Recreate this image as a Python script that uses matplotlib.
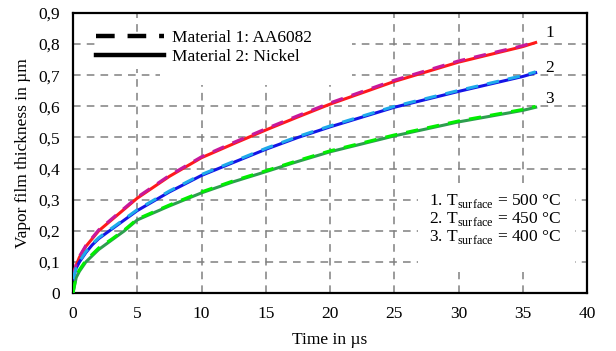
import numpy as np
import matplotlib
matplotlib.use('Agg')
import matplotlib.pyplot as plt
from matplotlib.lines import Line2D
from matplotlib.patches import Rectangle

plt.rcParams['font.family'] = ['Liberation Serif', 'DejaVu Serif']
plt.rcParams['mathtext.fontset'] = 'custom'
plt.rcParams['mathtext.rm'] = 'Liberation Serif'
plt.rcParams['font.size'] = 12.5

# time in microseconds
t = [0, 0.25, 0.5, 1, 1.5, 2, 3, 4, 5, 7.5, 10, 12.5, 15, 17.5, 20, 25, 30, 35, 36]

# Material 2 (Nickel), solid
ni_500 = [0.055, 0.09, 0.115, 0.15, 0.175, 0.20, 0.235, 0.27, 0.305, 0.375, 0.435,
          0.48, 0.524, 0.566, 0.607, 0.68, 0.742, 0.792, 0.805]
ni_450 = [0.045, 0.08, 0.10, 0.13, 0.155, 0.175, 0.205, 0.235, 0.265, 0.325, 0.378,
          0.42, 0.462, 0.50, 0.534, 0.597, 0.648, 0.696, 0.708]
ni_400 = [0.0, 0.05, 0.07, 0.10, 0.12, 0.14, 0.17, 0.20, 0.235, 0.28, 0.322,
          0.358, 0.39, 0.423, 0.454, 0.505, 0.55, 0.587, 0.597]

# Material 1 (AA6082), dashed
al_500 = [0.055, 0.092, 0.118, 0.153, 0.178, 0.203, 0.238, 0.273, 0.308, 0.378, 0.438,
          0.484, 0.528, 0.570, 0.611, 0.684, 0.746, 0.795, 0.808]
al_450 = [0.045, 0.082, 0.102, 0.133, 0.158, 0.178, 0.208, 0.238, 0.268, 0.328, 0.381,
          0.423, 0.465, 0.503, 0.537, 0.600, 0.651, 0.699, 0.711]
al_400 = [0.0, 0.055, 0.075, 0.105, 0.125, 0.145, 0.173, 0.203, 0.238, 0.283, 0.325,
          0.361, 0.393, 0.426, 0.457, 0.508, 0.553, 0.590, 0.600]

curve_labels = ['1', '2', '3']
temps = [500, 450, 400]

fig = plt.figure(figsize=(6.16, 3.51), dpi=100)
ax = fig.add_axes([0.1185, 0.165, 0.8345, 0.798])

ax.set_axisbelow(True)
ax.grid(True, color='#808080', linestyle=(0, (5, 4)), linewidth=1.1)

# white patches where the grid is hidden (legend + note box)
for (x0, y0, w, h) in [(1.7, 0.72, 5.1, 0.12), (6.8, 0.67, 14.9, 0.23), (26.85, 0.067, 12.2, 0.266)]:
    ax.add_patch(Rectangle((x0, y0), w, h, facecolor='white', edgecolor='none', zorder=1))

solid_cols = ['#ff1a1a', '#1414e6', '#2e9e4f']
dash_cols = ['#c8189b', '#1eaaea', '#00ee00']
solid = [ni_500, ni_450, ni_400]
dashed = [al_500, al_450, al_400]

for i in range(3):
    ax.plot(t, solid[i], color=solid_cols[i], lw=2.2, zorder=3)
for i in range(3):
    ax.plot(t, dashed[i], color=dash_cols[i], lw=2.2, dashes=(4, 3), zorder=4)

for i, lab in enumerate(curve_labels):
    ax.text(37.1, [0.837, 0.722, 0.624][i], lab, ha='center', va='center')

note = '\n'.join(f'{k}. T$_\\mathregular{{surface}}$ = {tp} °C' for k, tp in zip([1, 2, 3], temps))
ax.text(27.7, 0.238, note, ha='left', va='center', linespacing=0.98, zorder=5)

handles = [Line2D([], [], color='black', lw=3.2, dashes=(4.2, 2.9)),
           Line2D([], [], color='black', lw=3.2)]
ax.legend(handles, ['Material 1: AA6082', 'Material 2: Nickel'], loc='upper left',
          bbox_to_anchor=(0.045, 0.94), frameon=False, borderpad=0, borderaxespad=0,
          handlelength=3.9, handletextpad=0.45, labelspacing=0.15)

ax.set_xlim(0, 40)
ax.set_ylim(0, 0.9)
ax.set_xticks(np.arange(0, 41, 5))
yt = np.round(np.arange(0, 0.91, 0.1), 1)
ax.set_yticks(yt)
ax.set_yticklabels(['0'] + [f'{v:.1f}'.replace('.', ',') for v in yt[1:]])
ax.tick_params(length=0, pad=9, labelsize=12.5)
for s in ax.spines.values():
    s.set_linewidth(1.6)
    s.set_color('black')

ax.set_xlabel('Time in µs')
ax.set_ylabel('Vapor film thickness in µm')
ax.xaxis.set_label_coords(0.5, -0.14)
ax.yaxis.set_label_coords(-0.082, 0.5)

fig.savefig('out.png', dpi=100)
